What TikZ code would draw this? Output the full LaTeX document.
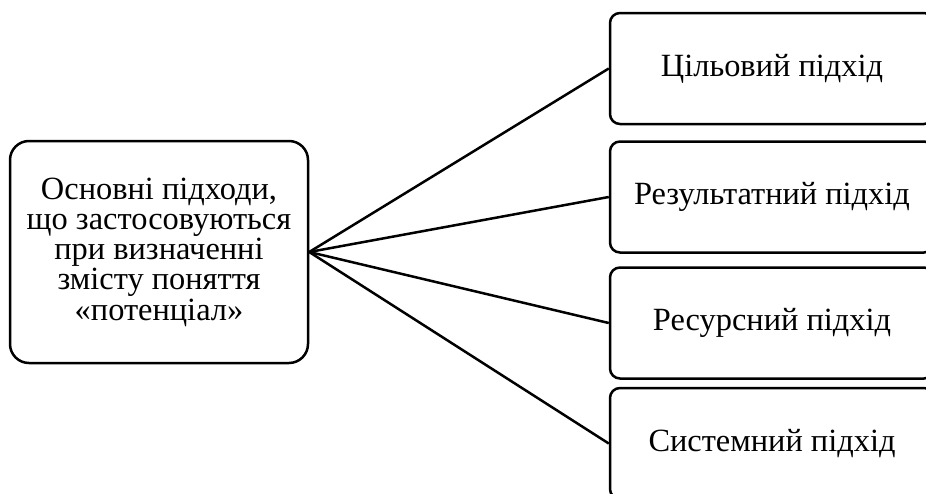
\documentclass[tikz,border=0pt]{standalone}
\usepackage{fontspec}
\setmainfont{Liberation Serif}
\tikzset{
  mainbox/.style={draw, line width=2.5pt, rounded corners=19pt, minimum width=298pt, minimum height=222pt, align=center, inner sep=0pt, font=\fontsize{32.4}{30.3}\selectfont},
  subbox/.style={draw, line width=2.5pt, rounded corners=10pt, minimum width=324pt, minimum height=111pt, align=center, inner sep=0pt, font=\fontsize{32.4}{30.3}\selectfont}
}
\begin{document}
\begin{tikzpicture}[x=1pt,y=-1pt]
      \useasboundingbox (0,0) rectangle (926,493);
      \draw
        (159,252) node[mainbox] (0){Основні підходи,\\що застосовуються\\при визначенні\\змісту поняття\\«потенціал»}
        (772,68.5) node[subbox] (1){Цільовий підхід}
        (772,197) node[subbox] (2){Результатний підхід}
        (772,323) node[subbox] (3){Ресурсний підхід}
        (772,443.5) node[subbox] (4){Системний підхід};
      \begin{scope}[-, line width=2.5pt]
        \draw (0.east) to (1.west);
        \draw (0.east) to (2.west);
        \draw (0.east) to (3.west);
        \draw (0.east) to (4.west);
      \end{scope}
    \end{tikzpicture}
\end{document}
